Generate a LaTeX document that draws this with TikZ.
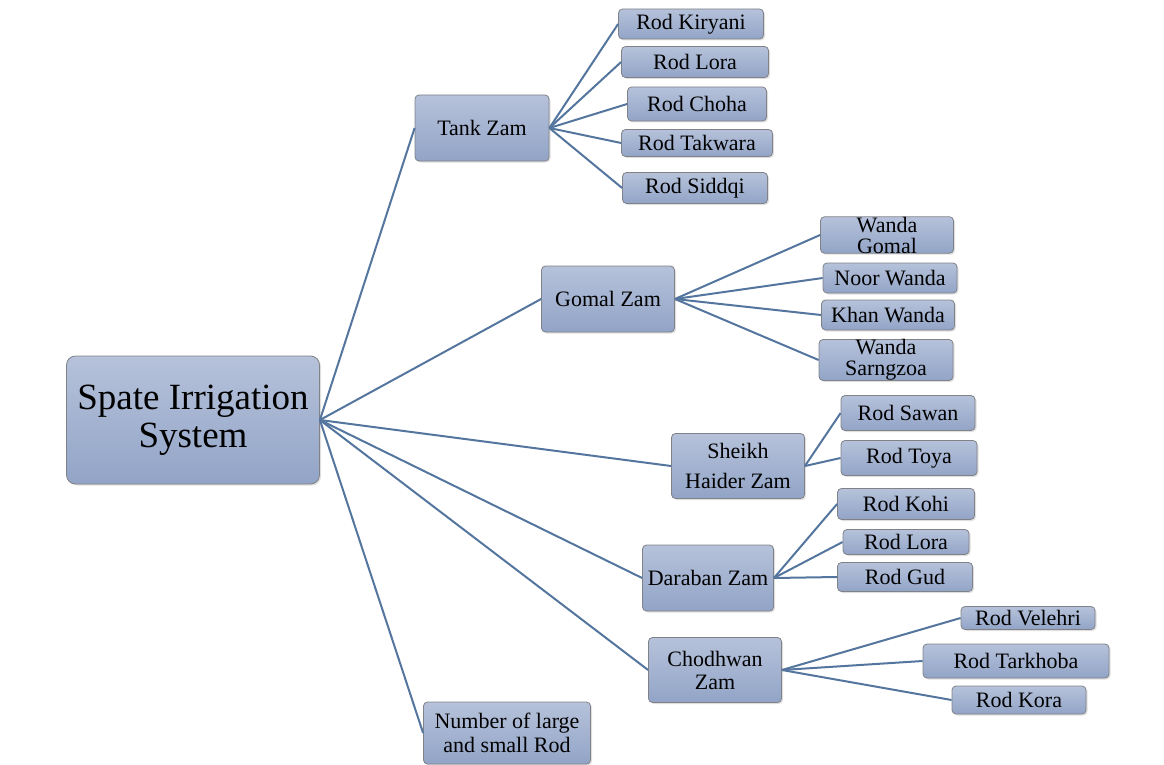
\documentclass[tikz,border=0pt]{standalone}
\usepackage{fontspec}
\setmainfont{Liberation Serif}
\usepackage{tikz}
\usetikzlibrary{positioning,shadows}
\definecolor{boxtop}{RGB}{182,194,218}
\definecolor{boxbottom}{RGB}{146,164,199}
\definecolor{boxline}{RGB}{128,130,136}
\definecolor{linkblue}{RGB}{84,117,158}
\tikzstyle{box}=[draw=boxline,line width=0.8pt,rounded corners=4pt,top color=boxtop,bottom color=boxbottom,inner sep=0pt,align=center,font=\fontsize{22}{24}\selectfont,drop shadow={opacity=0.25,shadow xshift=1.5pt,shadow yshift=-1.5pt}]
\tikzstyle{rootbox}=[box,rounded corners=9pt,font=\fontsize{37}{38}\selectfont]
\tikzstyle{link}=[draw=linkblue,line width=2pt]

\begin{document}
\begin{tikzpicture}[x=1pt,y=-1pt]
\useasboundingbox (0,0) rectangle (1164,765);
% root
\node [rootbox,minimum width=253pt,minimum height=128pt] (sis) at (193,420) {Spate Irrigation\\System};
% first level
\node [box,minimum width=134pt,minimum height=66pt] (tank) at (482,128) {Tank Zam};
\node [box,minimum width=133pt,minimum height=66pt] (gomal) at (608,299) {Gomal Zam};
\node [box,minimum width=133pt,minimum height=65pt,font=\fontsize{22}{30}\selectfont] (sheikh) at (738,466) {Sheikh\\Haider Zam};
\node [box,minimum width=131pt,minimum height=66pt] (daraban) at (708,578) {Daraban Zam};
\node [box,minimum width=133pt,minimum height=65pt,font=\fontsize{22}{23}\selectfont] (chodhwan) at (715,670) {Chodhwan\\Zam};
\node [box,minimum width=167pt,minimum height=62pt] (number) at (507,733) {Number of large\\and small Rod};
% Tank Zam
\node [box,minimum width=145pt,minimum height=30pt] (kiryani) at (691,24) {Rod Kiryani};
\node [box,minimum width=147pt,minimum height=31pt] (lora) at (695,62) {Rod Lora};
\node [box,minimum width=139pt,minimum height=34pt] (choha) at (697,104) {Rod Choha};
\node [box,minimum width=151pt,minimum height=27pt] (takwara) at (697,143) {Rod Takwara};
\node [box,minimum width=145pt,minimum height=31pt] (siddqi) at (695,188) {Rod Siddqi};
% Gomal Zam
\node [box,minimum width=133pt,minimum height=36pt,font=\fontsize{22}{21}\selectfont] (wgomal) at (887,235) {Wanda\\Gomal};
\node [box,minimum width=134pt,minimum height=30pt] (noor) at (890,278) {Noor Wanda};
\node [box,minimum width=133pt,minimum height=30pt] (khan) at (888,315) {Khan Wanda};
\node [box,minimum width=134pt,minimum height=40pt,font=\fontsize{22}{21}\selectfont] (sarngzoa) at (886,360) {Wanda\\Sarngzoa};
% Sheikh Haider Zam
\node [box,minimum width=134pt,minimum height=35pt] (sawan) at (908,413) {Rod Sawan};
\node [box,minimum width=136pt,minimum height=35pt] (toya) at (909,458) {Rod Toya};
% Daraban Zam
\node [box,minimum width=137pt,minimum height=31pt] (kohi) at (906,504) {Rod Kohi};
\node [box,minimum width=126pt,minimum height=25pt] (dlora) at (906,542) {Rod Lora};
\node [box,minimum width=135pt,minimum height=29pt] (gud) at (905,577) {Rod Gud};
% Chodhwan Zam
\node [box,minimum width=134pt,minimum height=23pt] (velehri) at (1028,618) {Rod Velehri};
\node [box,minimum width=186pt,minimum height=34pt] (tarkhoba) at (1016,661) {Rod Tarkhoba};
\node [box,minimum width=134pt,minimum height=28pt] (kora) at (1019,700) {Rod Kora};
% connectors
\foreach \n in {tank,gomal,sheikh,daraban,chodhwan,number}
  \draw [link] (sis.east) -- (\n.west);
\foreach \n in {kiryani,lora,choha,takwara,siddqi}
  \draw [link] (tank.east) -- (\n.west);
\foreach \n in {wgomal,noor,khan,sarngzoa}
  \draw [link] (gomal.east) -- (\n.west);
\foreach \n in {sawan,toya}
  \draw [link] (sheikh.east) -- (\n.west);
\foreach \n in {kohi,dlora,gud}
  \draw [link] (daraban.east) -- (\n.west);
\foreach \n in {velehri,tarkhoba,kora}
  \draw [link] (chodhwan.east) -- (\n.west);
\end{tikzpicture}
\end{document}
